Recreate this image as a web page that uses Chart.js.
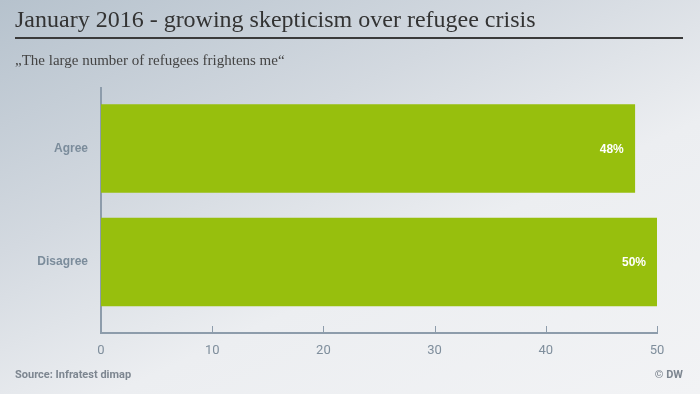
<!DOCTYPE html>
<html>
<head>
<meta charset="utf-8">
<script src="https://cdn.jsdelivr.net/npm/chart.js@4/dist/chart.umd.min.js"></script>
<style>
    html, body { margin: 0; padding: 0; }
    body {
        width: 700px; height: 394px; overflow: hidden; position: relative;
        background: linear-gradient(155deg, #b6c2cd 0%, #d3d9e0 35%, #eceef1 62%, #f2f3f5 100%);
    }
    #chartCanvas { position: absolute; left: 0; top: 0; }
    .title {
        position: absolute; left: 15px; top: 6px;
        font-family: 'Liberation Serif', serif; font-size: 24px; color: #333;
    }
    .rule { position: absolute; left: 15px; top: 37px; width: 668px; height: 2px; background: #3a3a3a; }
    .subtitle {
        position: absolute; left: 15px; top: 52px;
        font-family: 'Liberation Serif', serif; font-size: 15px; color: #444;
    }
    .foot {
        position: absolute; top: 368px;
        font-family: 'Liberation Sans Narrow', 'Roboto', sans-serif; font-weight: bold;
        font-size: 11px; color: #7d8690;
    }
</style>
</head>
<body>
<canvas id="chartCanvas" width="700" height="394"></canvas>
<div class="title">January 2016 - growing skepticism over refugee crisis</div>
<div class="rule"></div>
<div class="subtitle">„The large number of refugees frightens me“</div>
<div class="foot" style="left:15px">Source: Infratest dimap</div>
<div class="foot" style="right:17px">© DW</div>
<script>
const categories = ['Agree', 'Disagree'];
const values = [48, 50];
const xTicks = [0, 10, 20, 30, 40, 50];

const axisColor = '#8d9cab';

// short tick marks pointing up from the x axis, plus value labels
const extras = {
    id: 'extras',
    afterDatasetsDraw(chart) {
        const ctx = chart.ctx;
        const x = chart.scales.x;
        const area = chart.chartArea;
        ctx.save();
        ctx.strokeStyle = axisColor;
        ctx.lineWidth = 1;
        xTicks.forEach(v => {
            if (v === 0) return;
            const px = Math.round(x.getPixelForValue(v)) + 0.5;
            ctx.beginPath();
            ctx.moveTo(px, area.bottom);
            ctx.lineTo(px, area.bottom - 7);
            ctx.stroke();
        });
        ctx.fillStyle = '#ffffff';
        ctx.font = 'bold 12px "Liberation Sans", sans-serif';
        ctx.textAlign = 'right';
        ctx.textBaseline = 'middle';
        chart.getDatasetMeta(0).data.forEach((bar, i) => {
            ctx.fillText(values[i] + '%', bar.x - 11, bar.y + 1);
        });
        ctx.restore();
    }
};

new Chart(document.getElementById('chartCanvas'), {
    type: 'bar',
    data: {
        datasets: [{
            data: values.map((v, i) => ({ x: v, y: i })),
            backgroundColor: '#97bf0d',
            borderWidth: 0,
            barThickness: 88
        }]
    },
    options: {
        indexAxis: 'y',
        responsive: false,
        animation: false,
        layout: { padding: { top: 88, right: 43, left: 0, bottom: 0 } },
        plugins: { legend: { display: false }, tooltip: { enabled: false } },
        scales: {
            x: {
                type: 'linear',
                min: 0, max: 50,
                offset: false,
                afterBuildTicks: s => { s.ticks = xTicks.map(v => ({ value: v })); },
                afterFit: s => { s.height = 61; },
                grid: { display: false, drawTicks: false, offset: false },
                border: { color: axisColor, width: 2 },
                ticks: {
                    padding: 10,
                    color: '#7f8e9c',
                    font: { family: '"Liberation Sans Narrow", Roboto, sans-serif', size: 13 }
                }
            },
            y: {
                type: 'linear',
                reverse: true,
                offset: false,
                min: -0.533, max: 1.626,
                afterBuildTicks: s => { s.ticks = categories.map((c, i) => ({ value: i })); },
                afterFit: s => { s.width = 101; },
                grid: { display: false, drawTicks: false, offset: false },
                border: { color: axisColor, width: 2 },
                ticks: {
                    padding: 13,
                    color: '#7b8c9b',
                    font: { family: '"Liberation Sans", sans-serif', size: 12, weight: 'bold' },
                    callback: v => categories[v]
                }
            }
        }
    },
    plugins: [extras]
});
</script>
</body>
</html>
